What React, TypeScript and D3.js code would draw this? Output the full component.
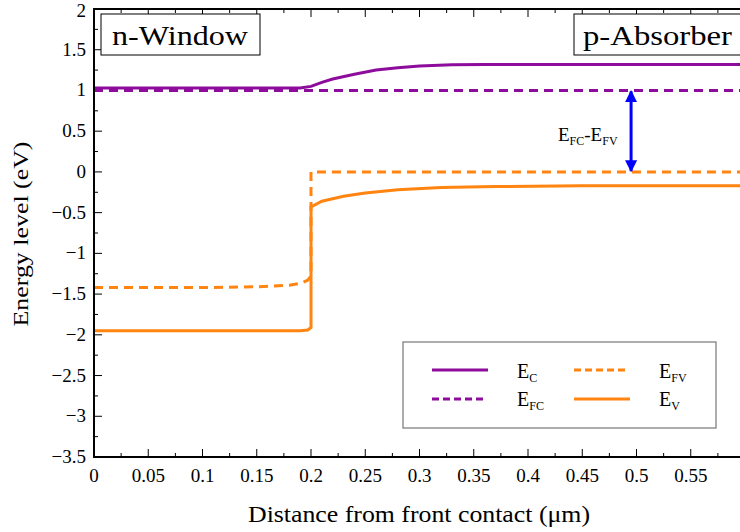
import React from "react";
import * as d3 from "d3";

// band edges (eV) vs distance from front contact (um)
const ecX = [0, 0.1, 0.19, 0.2, 0.21, 0.22, 0.24, 0.26, 0.28, 0.3, 0.33, 0.36, 0.4, 0.5, 0.6];
const ecY = [1.03, 1.03, 1.03, 1.05, 1.1, 1.14, 1.2, 1.25, 1.28, 1.3, 1.315, 1.32, 1.32, 1.32, 1.32];

const efcX = [0, 0.6];
const efcY = [1.0, 1.0];

const efvX = [0, 0.1, 0.15, 0.18, 0.19, 0.197, 0.2, 0.2, 0.6];
const efvY = [-1.42, -1.42, -1.41, -1.39, -1.37, -1.33, -1.28, 0, 0];

const evX = [0, 0.1, 0.19, 0.197, 0.2, 0.2, 0.21, 0.23, 0.25, 0.28, 0.32, 0.37, 0.45, 0.6];
const evY = [-1.95, -1.95, -1.95, -1.94, -1.91, -0.43, -0.36, -0.3, -0.26, -0.22, -0.19, -0.18, -0.17, -0.17];

const xTicks = [0, 0.05, 0.1, 0.15, 0.2, 0.25, 0.3, 0.35, 0.4, 0.45, 0.5, 0.55];
const yTicks = [2, 1.5, 1, 0.5, 0, -0.5, -1, -1.5, -2, -2.5, -3, -3.5];

const purple = "#8d0c9c";
const orange = "#ff8410";
const font = "'Liberation Serif', 'DejaVu Serif', serif";

const left = 94, top = 9, right = 745, bottom = 457;

export default function App() {
  const x = d3.scaleLinear().domain([0, 0.6]).range([left, right]);
  const y = d3.scaleLinear().domain([-3.5, 2]).range([bottom, top]);
  const line = (xs: number[], ys: number[]) =>
    d3.line<number>().x((_, i) => x(xs[i])).y((d) => y(d))(ys) || "";
  const fmt = (v: number) => (v < 0 ? "\u2212" + Math.abs(v) : String(v));
  const xMinor = d3.range(0, 0.6001, 0.025);
  const yMinor = d3.range(-3.5, 2.001, 0.25);

  const sub = (main: string, s: string) => (
    <>
      {main}
      <tspan fontSize={12} dy={4}>{s}</tspan>
    </>
  );

  return (
    <svg width={740} height={532} style={{ position: "absolute", left: 0, top: 0, background: "#fff" }} fontFamily={font}>
      <defs>
        <marker id="ah" viewBox="0 0 10 10" refX={9} refY={5} markerWidth={4} markerHeight={4} orient="auto-start-reverse">
          <path d="M0,0 L10,5 L0,10 z" fill="#0000ff" />
        </marker>
      </defs>
      {/* minor ticks */}
      {xMinor.map((t, i) => (
        <g key={"xm" + i} stroke="#000" strokeWidth={1}>
          <line x1={x(t)} x2={x(t)} y1={bottom} y2={bottom - (i % 2 === 0 ? 8 : 4)} />
          <line x1={x(t)} x2={x(t)} y1={top} y2={top + (i % 2 === 0 ? 8 : 4)} />
        </g>
      ))}
      {yMinor.map((t, i) => (
        <line key={"ym" + i} x1={left} x2={left + (i % 2 === 0 ? 8 : 4)} y1={y(t)} y2={y(t)} stroke="#000" strokeWidth={1} />
      ))}
      {/* series */}
      <path d={line(efcX, efcY)} fill="none" stroke={purple} strokeWidth={3} strokeDasharray="9 6" />
      <path d={line(ecX, ecY)} fill="none" stroke={purple} strokeWidth={3} />
      <path d={line(efvX, efvY)} fill="none" stroke={orange} strokeWidth={3} strokeDasharray="9 6" />
      <path d={line(evX, evY)} fill="none" stroke={orange} strokeWidth={3} />
      {/* frame */}
      <rect x={left} y={top} width={right - left} height={bottom - top} fill="none" stroke="#000" strokeWidth={2} />
      {/* tick labels */}
      {xTicks.map((t) => (
        <text key={"xt" + t} x={x(t)} y={bottom + 25} textAnchor="middle" fontSize={19}>{fmt(t)}</text>
      ))}
      {yTicks.map((t) => (
        <text key={"yt" + t} x={left - 8} y={Math.max(y(t) + 6, 17)} textAnchor="end" fontSize={19}>{fmt(t)}</text>
      ))}
      <text x={419} y={522} textAnchor="middle" fontSize={23} textLength={342} lengthAdjust="spacingAndGlyphs">
        Distance from front contact ({"\u03bc"}m)
      </text>
      <text transform={`translate(28,${234}) rotate(-90)`} textAnchor="middle" fontSize={22} textLength={185} lengthAdjust="spacingAndGlyphs">
        Energy level (eV)
      </text>
      {/* region labels */}
      <rect x={101} y={14} width={159} height={41} fill="#fff" stroke="#000" strokeWidth={1} />
      <text x={112} y={45} fontSize={28} textLength={136} lengthAdjust="spacingAndGlyphs">n-Window</text>
      <rect x={574} y={14} width={180} height={41} fill="#fff" stroke="#000" strokeWidth={1} />
      <text x={583} y={45} fontSize={28} textLength={149} lengthAdjust="spacingAndGlyphs">p-Absorber</text>
      {/* gap arrow */}
      <line x1={x(0.495)} x2={x(0.495)} y1={y(0.99)} y2={y(0.01)} stroke="#0000ff" strokeWidth={3} markerStart="url(#ah)" markerEnd="url(#ah)" />
      <text x={558} y={141} fontSize={19}>
        {sub("E", "FC")}
        <tspan dy={-4}>-E</tspan>
        <tspan fontSize={12} dy={4}>FV</tspan>
      </text>
      {/* legend */}
      <rect x={403} y={342} width={313} height={86} fill="#fff" stroke="#777" strokeWidth={1.2} />
      <line x1={432} x2={488} y1={370} y2={370} stroke={purple} strokeWidth={3} />
      <text x={517} y={378} fontSize={20}>{sub("E", "C")}</text>
      <line x1={432} x2={486} y1={399} y2={399} stroke={purple} strokeWidth={3} strokeDasharray="7 4" />
      <text x={517} y={406} fontSize={20}>{sub("E", "FC")}</text>
      <line x1={574} x2={627} y1={370} y2={370} stroke={orange} strokeWidth={3} strokeDasharray="7 4" />
      <text x={659} y={378} fontSize={20}>{sub("E", "FV")}</text>
      <line x1={574} x2={630} y1={399} y2={399} stroke={orange} strokeWidth={3} />
      <text x={659} y={406} fontSize={20}>{sub("E", "V")}</text>
    </svg>
  );
}
